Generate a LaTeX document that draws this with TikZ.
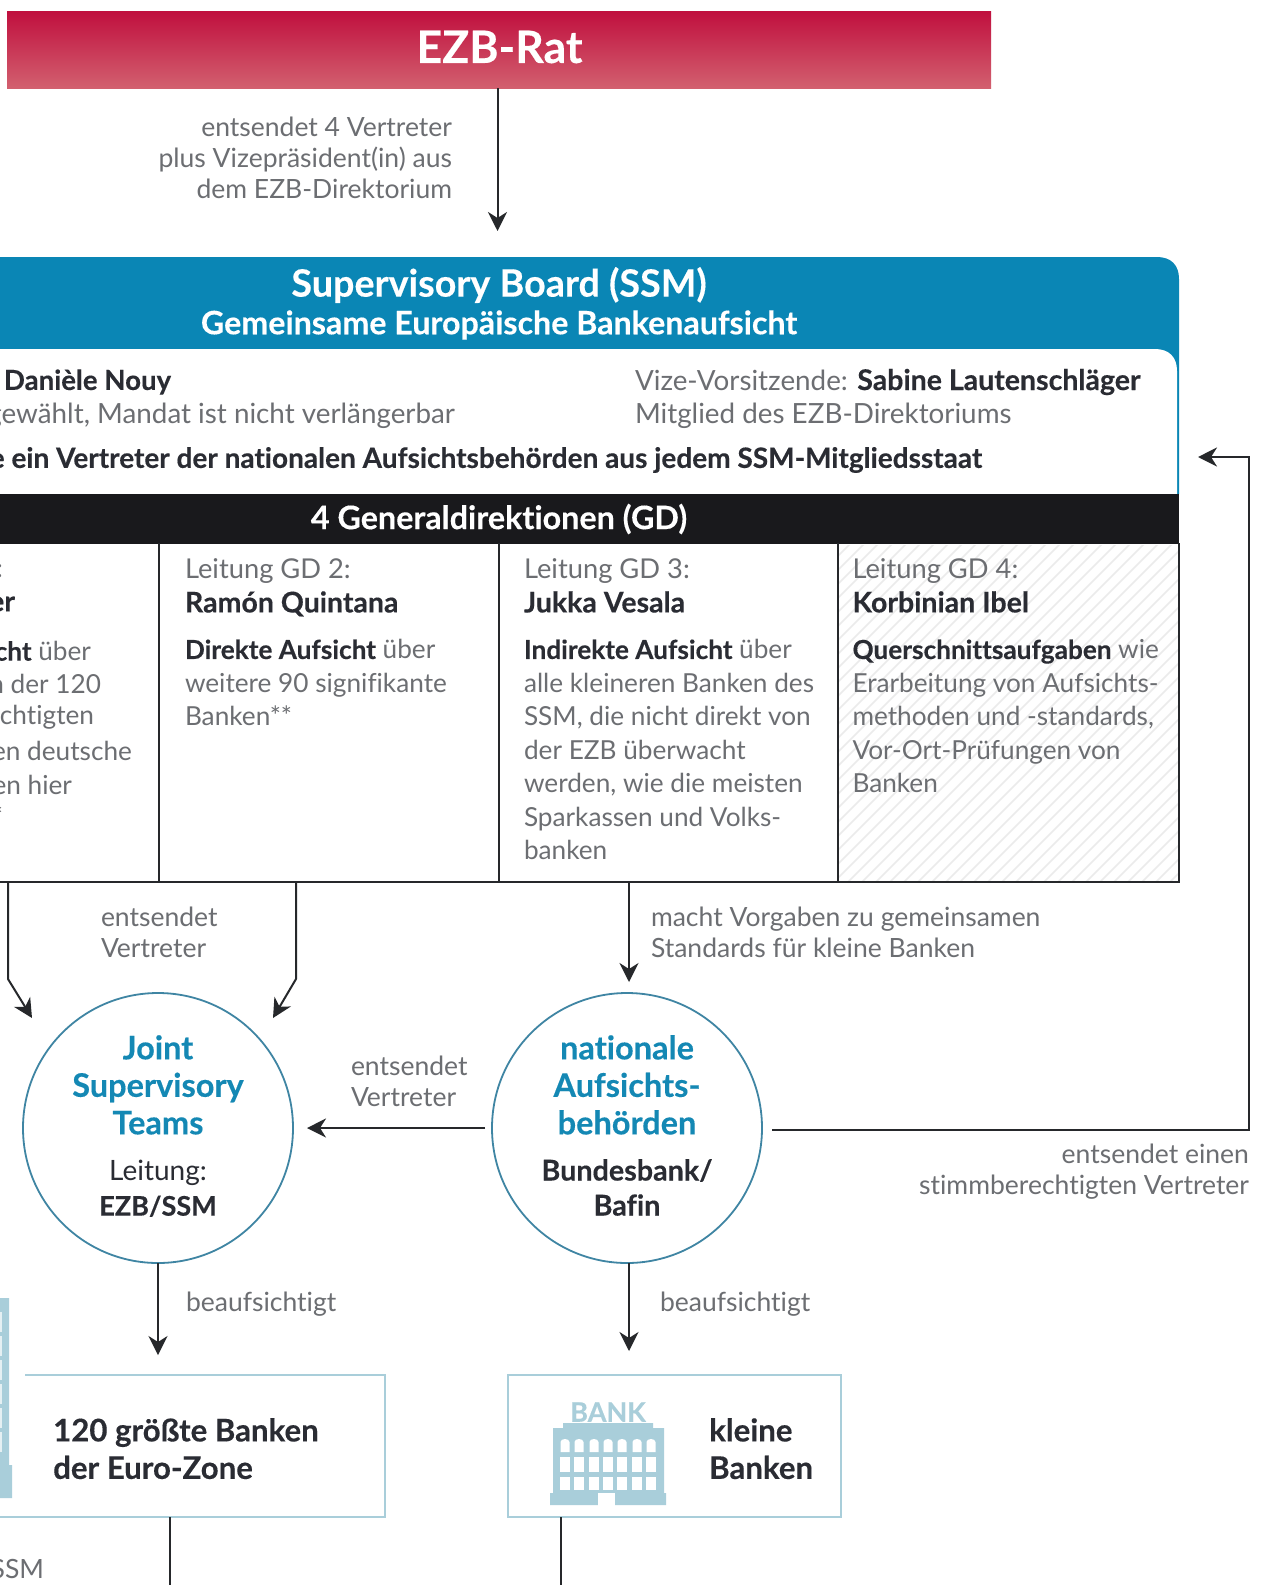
\documentclass[tikz,border=0pt]{standalone}
\usepackage{fontspec}
\setmainfont{Lato}[Ligatures=NoCommon,BoldFeatures={FakeBold=0.3}]
\usetikzlibrary{arrows.meta,calc}
\definecolor{boardblue}{HTML}{0A86B5}
\definecolor{circblue}{HTML}{3F85A3}
\definecolor{titleblue}{HTML}{1488B4}
\definecolor{pale}{HTML}{A9CEDA}
\definecolor{greytext}{HTML}{6C6E72}
\definecolor{darktext}{HTML}{2A2C33}
\definecolor{blackbar}{HTML}{19191C}
\definecolor{rulecol}{HTML}{26282B}
\definecolor{redtop}{HTML}{C00F3E}
\definecolor{redbot}{HTML}{D2606F}
\newcommand\nm[1]{\textcolor{darktext}{\fontsize{28.5}{33.5}\selectfont\textbf{#1}}}
\newcommand\bd[1]{\textcolor{darktext}{\textbf{#1}}}
\tikzset{
  x=1pt,y=-1pt,
  txt/.style={inner sep=0pt,outer sep=0pt,text=greytext,font=\fontsize{26.2}{33.5}\selectfont,align=left},
  hdr/.style={txt,font=\fontsize{27.3}{33.5}\selectfont},
  top/.style={txt,font=\fontsize{27.8}{33.5}\selectfont},
  lbl/.style={inner sep=0pt,outer sep=0pt,text=greytext,font=\fontsize{26.5}{31}\selectfont,align=left},
  lblr/.style={lbl,align=right},
  dk/.style={text=darktext},
  circ/.style={circle,draw=circblue,line width=1.8pt,minimum size=270pt,inner sep=0pt,outer sep=0pt},
  circt/.style={inner sep=0pt,text=titleblue,font=\fontsize{32.5}{37.5}\bfseries\selectfont,align=center},
  circs/.style={inner sep=0pt,text=darktext,font=\fontsize{28}{35}\selectfont,align=center},
  conn/.style={draw=rulecol,line width=2pt,-{Stealth[length=19pt,width=19pt,inset=6pt]}},
  plain/.style={draw=rulecol,line width=2pt},
  bankbox/.style={draw=pale,line width=1.8pt},
  big/.style={inner sep=0pt,text=darktext,font=\fontsize{31.2}{37.5}\bfseries\selectfont,align=left},
}
\begin{document}
\begin{tikzpicture}
\useasboundingbox (0,0) rectangle (1266,1585);
\fill[white] (0,0) rectangle (1266,1585);

% EZB bar
\node[anchor=north west,minimum width=984pt,minimum height=77pt,inner sep=0pt,outer sep=0pt,top color=redtop,bottom color=redbot] (ezb) at (7,11) {};
\node[inner sep=0pt,text=white,font=\fontsize{44.6}{50}\bfseries\selectfont] (ezbt) at (499.5,47) {EZB-Rat};

% Board
\fill[boardblue] (-5,257) -- (1157,257) .. controls (1171,257) and (1179,265) .. (1179,279) -- (1179,494) -- (-5,494) -- cycle;
\fill[white] (-5,349) -- (1155,349) .. controls (1169,349) and (1177,357) .. (1177,371) -- (1177,494) -- (-5,494) -- cycle;
\node[anchor=north west,fill=blackbar,minimum width=1184pt,minimum height=50pt,inner sep=0pt,outer sep=0pt] (gdbar) at (-5,493.5) {};
\node[inner sep=0pt,text=white,font=\fontsize{37.7}{44}\bfseries\selectfont] (sbt) at (499,285) {Supervisory Board (SSM)};
\node[inner sep=0pt,text=white,font=\fontsize{32.2}{38}\bfseries\selectfont] (sbs) at (499,325) {Gemeinsame Europäische Bankenaufsicht};
\node[inner sep=0pt,text=white,font=\fontsize{32.3}{38}\bfseries\selectfont] (gdt) at (499,519) {4 Generaldirektionen (GD)};

% Hatched cell
\begin{scope}
\clip (838,545) rectangle (1178,882);
\foreach \i in {0,14,...,700}{
  \draw[black!8,line width=1.5pt] (838+\i-340,882) -- (838+\i,542);
}
\end{scope}
% Table
\coordinate (tl) at (-5,882);
\coordinate (tr) at (1178.5,882);
\draw[plain] (tl) -- (tr) -- (1178.5,543);
\draw[plain] (159,543) -- (159,882);
\draw[plain] (498.5,543) -- (498.5,882);
\draw[plain] (838,543) -- (838,882);

% Board texts
\node[top,anchor=west] (chair) at (4,382) {\fontsize{27.6}{33}\selectfont\bd{Danièle Nouy}};
\node[top,anchor=east] (chairb) at (455,416) {gewählt, Mandat ist nicht verlängerbar};
\node[top,anchor=west] (vice) at (635,382) {Vize-Vorsitzende: \nm{Sabine Lautenschläger}};
\node[top,anchor=west] (viceb) at (635,416) {Mitglied des EZB-Direktoriums};
\node[top,anchor=east] (rep) at (982,460) {\fontsize{28}{33}\selectfont\bd{e ein Vertreter der nationalen Aufsichtsbehörden aus jedem SSM-Mitgliedsstaat}};

% GD 1 fragments
\node[txt,anchor=east] (g1a) at (3,571) {:};
\node[txt,anchor=east] (g1b) at (15,604) {\nm{er}};
\node[txt,anchor=east] (g1c) at (91,651) {\bd{cht} über};
\node[txt,anchor=east] (g1d) at (101,684) {n der 120};
\node[txt,anchor=east] (g1e) at (94,717) {chtigten};
\node[txt,anchor=east] (g1f) at (132,751) {en deutsche};
\node[txt,anchor=east] (g1g) at (72,785) {en hier};
\node[txt,anchor=east] (g1h) at (3,816) {*};

% GD 2
\node[hdr,anchor=north west] (g2h) at (185,559) {Leitung GD 2:\\\nm{Ramón Quintana}};
\node[txt,anchor=north west] (g2b) at (185,639.5) {\bd{Direkte Aufsicht} über\\weitere 90 signifikante\\Banken**};
% GD 3
\node[hdr,anchor=north west] (g3h) at (524,559) {Leitung GD 3:\\\nm{Jukka Vesala}};
\node[txt,anchor=north west] (g3b) at (524,639.5) {\bd{Indirekte Aufsicht} über\\alle kleineren Banken des\\SSM, die nicht direkt von\\der EZB überwacht\\werden, wie die meisten\\Sparkassen und Volks-\\banken};
% GD 4
\node[hdr,anchor=north west] (g4h) at (852.5,559) {Leitung GD 4:\\\nm{Korbinian Ibel}};
\node[txt,anchor=north west] (g4b) at (852.5,639.5) {\bd{Querschnittsaufgaben} wie\\Erarbeitung von Aufsichts-\\methoden und -standards,\\Vor-Ort-Prüfungen von\\Banken};

% Circles
\node[circ] (jst) at (158,1128) {};
\node[circ] (nat) at (627,1128) {};
\node[circt,anchor=north] (jstt) at (158,1035) {Joint\\Supervisory\\Teams};
\node[circs,anchor=north] (jsts) at (158,1160) {Leitung:\\\fontsize{27}{35}\selectfont\textbf{EZB/SSM}};
\node[circt,anchor=north] (natt) at (627,1035) {nationale\\Aufsichts-\\behörden};
\node[circs,anchor=north,font=\fontsize{28.7}{35}\bfseries\selectfont] (nats) at (627,1159) {Bundesbank/\\Bafin};

% Boxes
\draw[bankbox] (25,1375) -- (385,1375) -- (385,1517) -- (-5,1517);
\coordinate (bigbot) at (170,1517);
\coordinate (smallbot) at (561,1517);
\draw[bankbox] (508,1375) rectangle (841,1517);
\node[big,anchor=north west] (bigt) at (53,1418) {120 größte Banken\\der Euro-Zone};
\node[big,anchor=north west] (smallt) at (709,1418) {kleine\\Banken};

% small bank icon
\node[inner sep=0pt,text=pale,font=\fontsize{27}{30}\bfseries\selectfont] (banklab) at (608,1412) {BANK};
\fill[pale] (563,1423) rectangle (653,1430) (553,1428) rectangle (664,1494) (550,1493) rectangle (666,1505);
\fill[white] (598,1493) rectangle (615,1506);
\foreach \wx in {565,579,594,608,622,637,651}{
  \fill[white] (\wx-4.5,1442) .. controls (\wx-4.5,1438) and (\wx+4.5,1438) .. (\wx+4.5,1442) -- (\wx+4.5,1452) -- (\wx-4.5,1452) -- cycle;
  \fill[white] (\wx-5,1457) rectangle (\wx+5,1472);
  \fill[white] (\wx-5,1477) rectangle (\wx+5,1490);
}
% cut-off bank icon at left edge
\fill[pale] (-5,1298) rectangle (9,1468) (-5,1465) rectangle (12,1498);
\foreach \wy in {1312,1336,1360,1384,1408,1432}{
  \fill[white,opacity=0.7] (-5,\wy) rectangle (2,\wy+20);
}

% Connectors
\coordinate (a1) at (8,882);
\coordinate (a1k) at (8,979);
\coordinate (a1e) at (32,1018);
\coordinate (a2) at (296,882);
\coordinate (a2k) at (296,979);
\coordinate (a2e) at (273,1018);
\coordinate (a3) at (629,882);
\coordinate (a3e) at (629,982);
\coordinate (ar) at (1249,1130);
\coordinate (au) at (1249,457);
\coordinate (ae) at (1198,457);
\coordinate (b1) at (158,1355);
\coordinate (b2) at (629,1351);
\draw[conn] (ezb.south -| 497.5,0) -- (497.5,231);
\draw[conn,line join=bevel] (a1) -- (a1k) -- (a1e);
\draw[conn,line join=bevel] (a2) -- (a2k) -- (a2e);
\draw[conn] (a3) -- (a3e);
\draw[conn] ([xshift=-7pt]nat.west) -- ([xshift=14pt]jst.east);
\draw[conn] ([xshift=10pt,yshift=-2pt]nat.east) -- (ar) -- (au) -- (ae);
\draw[conn] (jst.south) -- (b1);
\draw[conn] (a3e |- nat.south) -- (b2);
\draw[plain] (bigbot) -- (170,1590);
\draw[plain] (smallbot) -- (561,1590);

% Labels
\node[lblr,anchor=north east] (l1) at (452,116.5) {entsendet 4 Vertreter\\plus Vizepräsident(in) aus\\dem EZB-Direktorium};
\node[lbl,anchor=north west] (l2) at (101,906.5) {entsendet\\Vertreter};
\node[lbl,anchor=north west] (l3) at (651,906.5) {macht Vorgaben zu gemeinsamen\\Standards für kleine Banken};
\node[lbl,anchor=north west] (l4) at (351,1055.5) {entsendet\\Vertreter};
\node[lblr,anchor=north east] (l5) at (1249,1143.5) {entsendet einen\\stimmberechtigten Vertreter};
\node[lbl,anchor=north west] (l6) at (186,1292) {beaufsichtigt};
\node[lbl,anchor=north west] (l7) at (660,1292) {beaufsichtigt};
\node[lbl,anchor=north east] (l8) at (44,1559) {SSM};
\end{tikzpicture}
\end{document}
